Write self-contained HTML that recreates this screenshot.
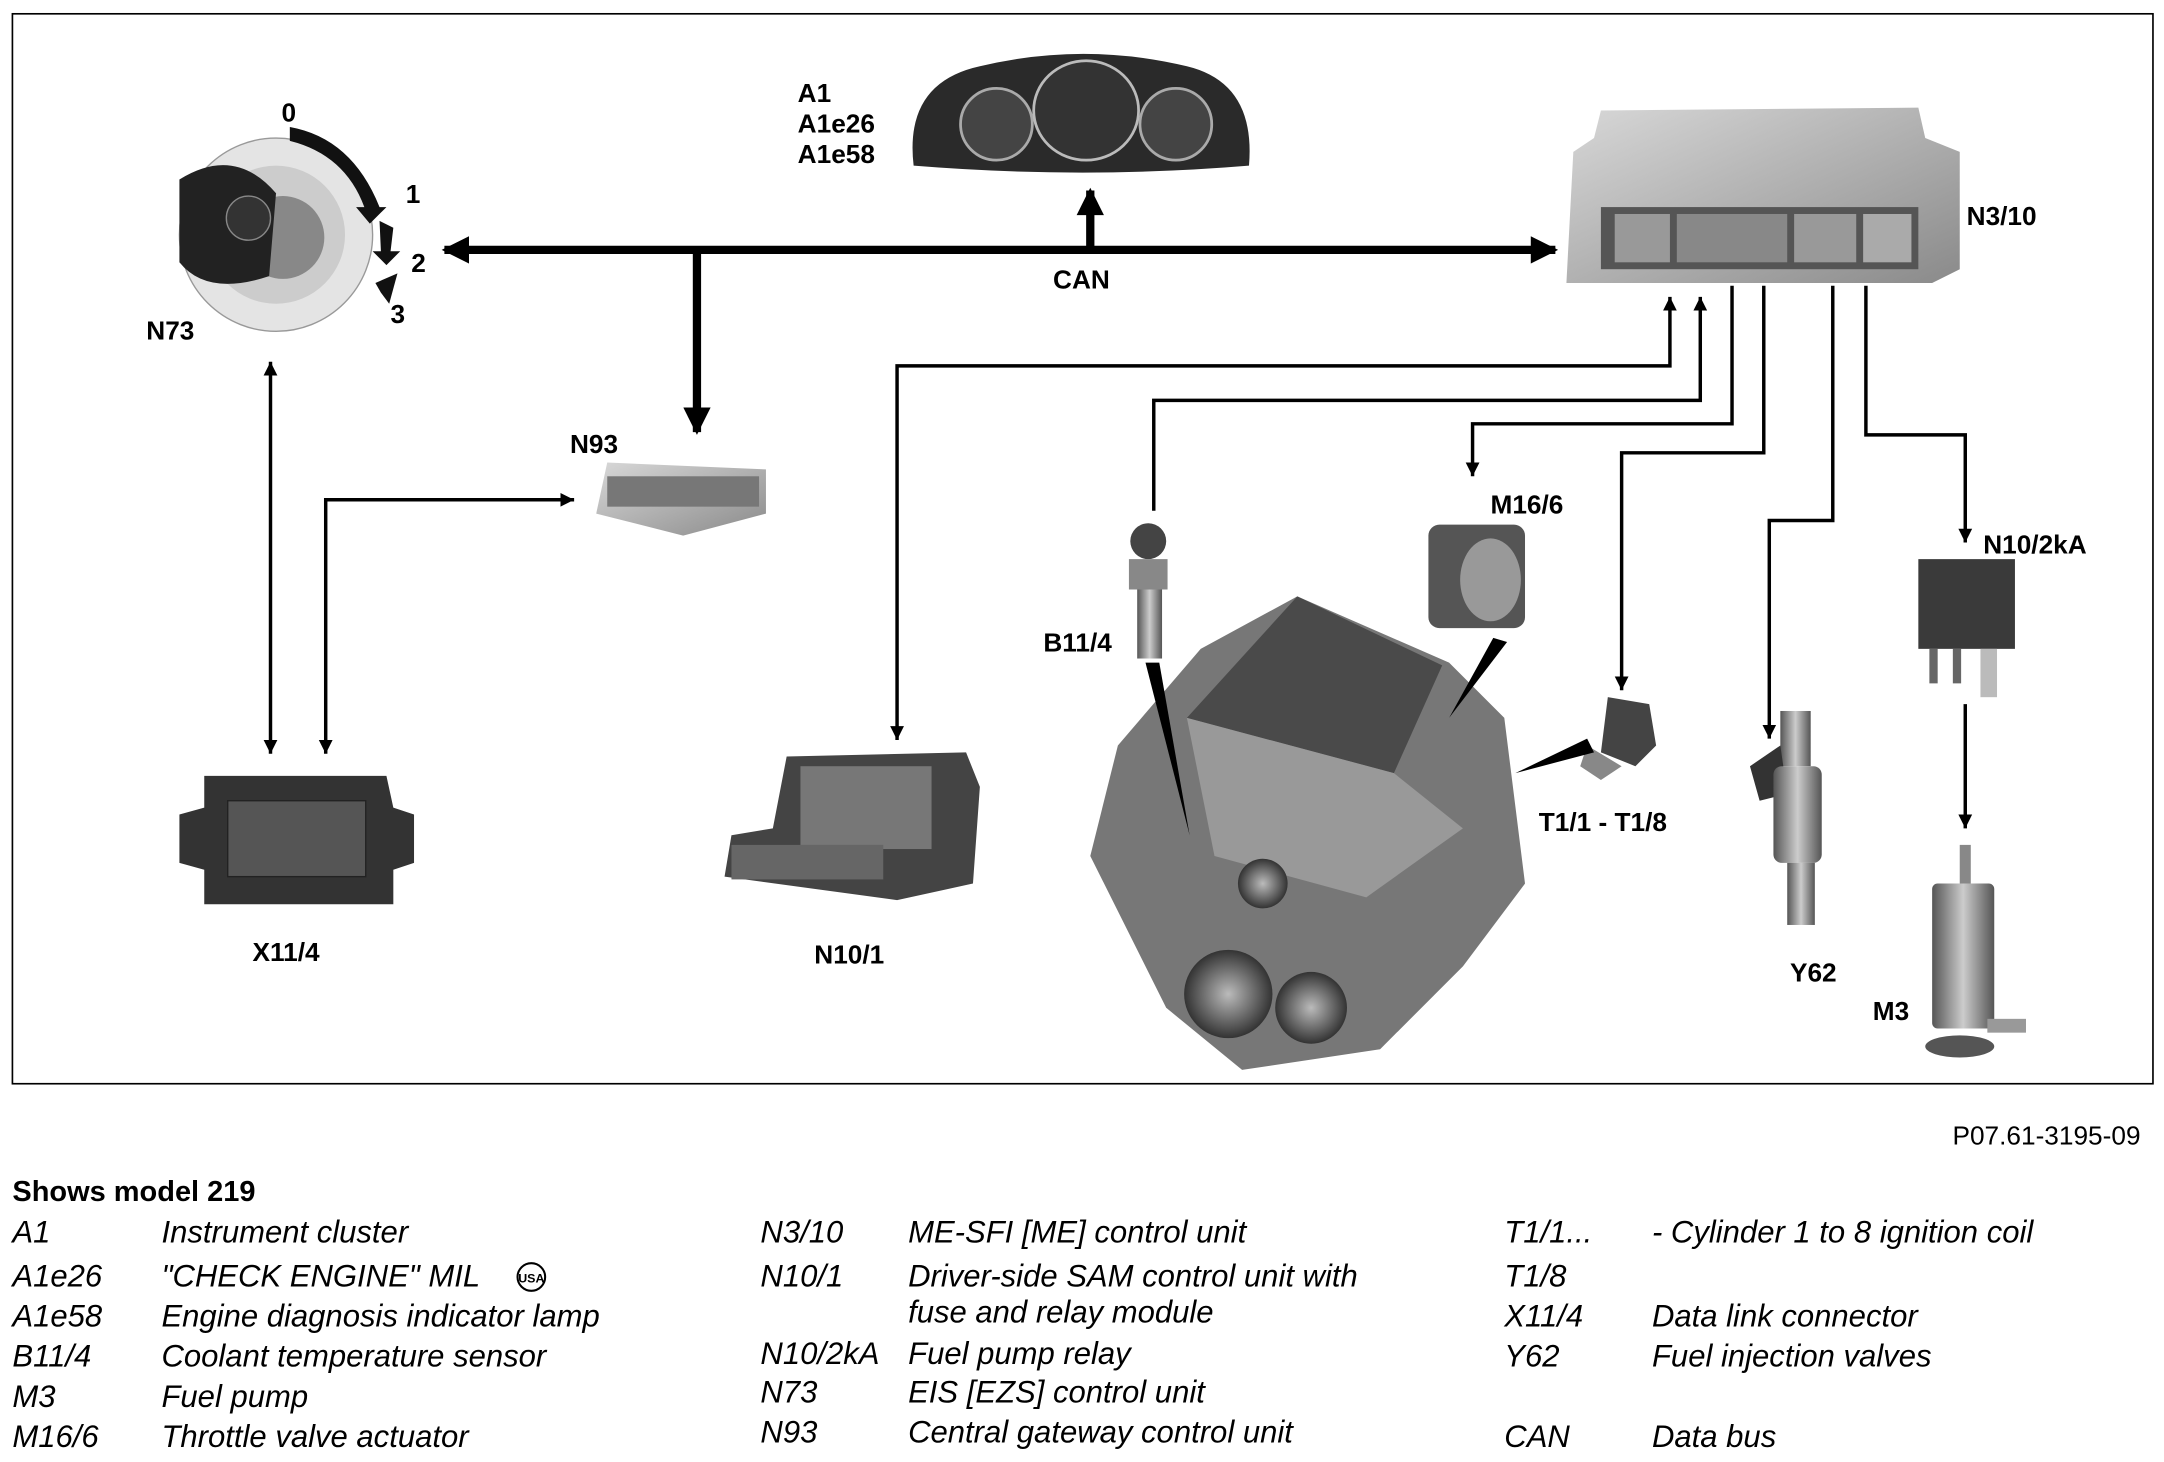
<!DOCTYPE html>
<html><head><meta charset="utf-8"><style>
html,body{margin:0;padding:0;background:#fff;}
svg{display:block;}
.lb{font-family:"Liberation Sans",Arial,sans-serif;font-weight:bold;font-size:19px;fill:#000;}
.lg{font-family:"Liberation Sans",Arial,sans-serif;font-style:italic;font-size:22.5px;fill:#000;}
</style></head><body>
<svg width="2164" height="1462" viewBox="0 0 1568 1059" preserveAspectRatio="none" xmlns="http://www.w3.org/2000/svg">
<defs>
<marker id="a" viewBox="0 0 10 10" refX="10" refY="5" markerWidth="10" markerHeight="12" markerUnits="userSpaceOnUse" orient="auto-start-reverse"><path d="M0,0 L10,5 L0,10 z" fill="#000"/></marker>
<marker id="A" viewBox="0 0 10 10" refX="9" refY="5" markerWidth="4" markerHeight="3.3" orient="auto-start-reverse"><path d="M0,0 L10,5 L0,10 z" fill="#000"/></marker>
<linearGradient id="g1" x1="0" y1="0" x2="1" y2="1"><stop offset="0" stop-color="#d8d8d8"/><stop offset="1" stop-color="#8a8a8a"/></linearGradient>
<linearGradient id="g2" x1="0" y1="0" x2="1" y2="0"><stop offset="0" stop-color="#555"/><stop offset=".5" stop-color="#ccc"/><stop offset="1" stop-color="#555"/></linearGradient>
<radialGradient id="g3"><stop offset="0" stop-color="#bbb"/><stop offset="1" stop-color="#333"/></radialGradient>
</defs>
<rect x="9" y="10" width="1551" height="775" fill="none" stroke="#000" stroke-width="1.2"/>

<!-- N73 -->
<circle cx="200" cy="170" r="70" fill="#e4e4e4" stroke="#999"/>
<circle cx="200" cy="170" r="50" fill="#ccc"/>
<circle cx="205" cy="172" r="30" fill="#888"/>
<path d="M130,130 Q170,105 200,140 L195,200 Q150,215 130,190 z" fill="#222"/>
<circle cx="180" cy="158" r="16" fill="#333" stroke="#888"/>
<path d="M210,92 Q255,100 275,150 L280,150 L268,162 L258,150 L264,150 Q250,112 210,102 z" fill="#111"/>
<path d="M275,160 L285,165 L283,182 L290,182 L280,192 L270,182 L276,182 z" fill="#111"/>
<path d="M272,205 L288,198 L282,220 L276,212 z" fill="#111"/>
<text class="lb" x="204" y="88">0</text>
<text class="lb" x="294" y="147">1</text>
<text class="lb" x="298" y="197">2</text>
<text class="lb" x="283" y="234">3</text>
<text class="lb" x="106" y="246">N73</text>

<!-- A1 cluster -->
<path d="M662,120 Q655,60 710,48 Q785,30 860,48 Q910,60 905,120 Q785,130 662,120 z" fill="#2a2a2a"/>
<circle cx="722" cy="90" r="26" fill="#444" stroke="#aaa" stroke-width="2"/>
<circle cx="852" cy="90" r="26" fill="#444" stroke="#aaa" stroke-width="2"/>
<ellipse cx="787" cy="80" rx="38" ry="36" fill="#333" stroke="#bbb" stroke-width="2"/>
<text class="lb" x="578" y="74">A1</text>
<text class="lb" x="578" y="96">A1e26</text>
<text class="lb" x="578" y="118">A1e58</text>

<!-- N3/10 -->
<path d="M1160,80 L1390,78 L1395,100 L1420,110 L1420,195 L1400,205 L1135,205 L1140,110 L1155,100 z" fill="url(#g1)"/>
<rect x="1160" y="150" width="230" height="45" fill="#555"/>
<rect x="1170" y="155" width="40" height="35" fill="#999"/>
<rect x="1215" y="155" width="80" height="35" fill="#888"/>
<rect x="1300" y="155" width="45" height="35" fill="#999"/>
<rect x="1350" y="155" width="35" height="35" fill="#aaa"/>
<text class="lb" x="1425" y="163">N3/10</text>

<!-- CAN bus -->
<line x1="322" y1="181" x2="1127" y2="181" stroke="#000" stroke-width="6" marker-start="url(#A)" marker-end="url(#A)"/>
<line x1="790" y1="181" x2="790" y2="138" stroke="#000" stroke-width="6" marker-end="url(#A)"/>
<line x1="505" y1="181" x2="505" y2="313" stroke="#000" stroke-width="6" marker-end="url(#A)"/>
<text class="lb" x="763" y="209">CAN</text>

<!-- N93 -->
<path d="M440,335 L555,340 L555,372 L495,388 L432,372 z" fill="url(#g1)"/>
<rect x="440" y="345" width="110" height="22" fill="#777"/>
<text class="lb" x="413" y="328">N93</text>

<!-- X11/4 -->
<path d="M148,562 L280,562 L285,585 L300,590 L300,625 L285,630 L285,655 L148,655 L148,630 L130,625 L130,590 L148,585 z" fill="#333"/>
<rect x="165" y="580" width="100" height="55" fill="#555" stroke="#222"/>
<text class="lb" x="183" y="696">X11/4</text>

<!-- N10/1 -->
<path d="M570,548 L700,545 L710,570 L705,640 L650,652 L525,635 L530,605 L560,600 z" fill="#444"/>
<rect x="580" y="555" width="95" height="60" fill="#777"/>
<rect x="530" y="612" width="110" height="25" fill="#666"/>
<text class="lb" x="590" y="698">N10/1</text>

<!-- Engine -->
<path d="M940,432 L1050,480 L1090,520 L1105,640 L1060,700 L1000,760 L900,775 L845,730 L790,620 L810,540 L870,470 z" fill="#777"/>
<path d="M940,432 L1045,482 L1010,560 L860,520 z" fill="#4a4a4a"/>
<path d="M860,520 L1010,560 L1060,600 L990,650 L880,620 z" fill="#999"/>
<circle cx="890" cy="720" r="32" fill="url(#g3)"/>
<circle cx="950" cy="730" r="26" fill="url(#g3)"/>
<circle cx="915" cy="640" r="18" fill="url(#g3)"/>
<!-- B11/4 -->
<circle cx="832" cy="392" r="13" fill="#444"/>
<rect x="818" y="405" width="28" height="22" fill="#888"/>
<rect x="824" y="427" width="18" height="50" fill="url(#g2)"/>
<text class="lb" x="756" y="472">B11/4</text>
<path d="M830,480 L840,480 L862,605 z" fill="#000"/>
<!-- M16/6 -->
<rect x="1035" y="380" width="70" height="75" rx="8" fill="#555"/>
<ellipse cx="1080" cy="420" rx="22" ry="30" fill="#999"/>
<text class="lb" x="1080" y="372">M16/6</text>
<path d="M1082,462 L1092,465 L1050,520 z" fill="#000"/>
<!-- T1 -->
<path d="M1165,505 L1195,510 L1200,540 L1185,555 L1160,545 z" fill="#444"/>
<path d="M1150,540 L1175,555 L1160,565 L1145,555 z" fill="#888"/>
<path d="M1150,535 L1155,545 L1098,560 z" fill="#000"/>
<text class="lb" x="1115" y="602">T1/1 - T1/8</text>
<!-- Y62 -->
<rect x="1290" y="515" width="22" height="40" fill="url(#g2)"/>
<path d="M1268,555 L1290,540 L1295,575 L1275,580 z" fill="#333"/>
<rect x="1285" y="555" width="35" height="70" rx="6" fill="url(#g2)"/>
<rect x="1295" y="625" width="20" height="45" fill="url(#g2)"/>
<text class="lb" x="1297" y="711">Y62</text>
<!-- N10/2kA -->
<rect x="1390" y="405" width="70" height="65" fill="#3a3a3a"/>
<rect x="1398" y="470" width="6" height="25" fill="#666"/>
<rect x="1415" y="470" width="6" height="25" fill="#666"/>
<rect x="1435" y="470" width="12" height="35" fill="#bbb"/>
<text class="lb" x="1437" y="401">N10/2kA</text>
<!-- M3 -->
<rect x="1420" y="612" width="8" height="30" fill="#888"/>
<rect x="1400" y="640" width="45" height="105" rx="4" fill="url(#g2)"/>
<rect x="1440" y="738" width="28" height="10" fill="#999"/>
<ellipse cx="1420" cy="758" rx="25" ry="8" fill="#555"/>
<text class="lb" x="1357" y="739">M3</text>

<!-- thin connectors -->
<g fill="none" stroke="#000" stroke-width="2.5">
<line x1="196" y1="262" x2="196" y2="546" marker-start="url(#a)" marker-end="url(#a)"/>
<polyline points="236,546 236,362 416,362" marker-start="url(#a)" marker-end="url(#a)"/>
<polyline points="650,536 650,265 1210,265 1210,215" marker-start="url(#a)" marker-end="url(#a)"/>
<polyline points="836,370 836,290 1232,290 1232,215" marker-end="url(#a)"/>
<polyline points="1255,207 1255,307 1067,307 1067,345" marker-end="url(#a)"/>
<polyline points="1278,207 1278,328 1175,328 1175,500" marker-end="url(#a)"/>
<polyline points="1328,207 1328,377 1282,377 1282,535" marker-end="url(#a)"/>
<polyline points="1352,207 1352,315 1424,315 1424,393" marker-end="url(#a)"/>
<line x1="1424" y1="510" x2="1424" y2="600" marker-end="url(#a)"/>
</g>

<!-- footer -->
<text class="lb" style="font-weight:normal;font-size:19px" x="1551" y="829" text-anchor="end">P07.61-3195-09</text>
<text class="lb" style="font-size:21px" x="9" y="870">Shows model 219</text>
<g>
<text class="lg" x="9" y="900">A1</text><text class="lg" x="117" y="900">Instrument cluster</text>
<text class="lg" x="9" y="932">A1e26</text><text class="lg" x="117" y="932">"CHECK ENGINE" MIL</text>
<circle cx="385" cy="925" r="10" fill="none" stroke="#000" stroke-width="1.5"/><text x="385" y="929" text-anchor="middle" style="font-family:'Liberation Sans',sans-serif;font-size:9px;font-weight:bold">USA</text>
<text class="lg" x="9" y="961">A1e58</text><text class="lg" x="117" y="961">Engine diagnosis indicator lamp</text>
<text class="lg" x="9" y="990">B11/4</text><text class="lg" x="117" y="990">Coolant temperature sensor</text>
<text class="lg" x="9" y="1019">M3</text><text class="lg" x="117" y="1019">Fuel pump</text>
<text class="lg" x="9" y="1048">M16/6</text><text class="lg" x="117" y="1048">Throttle valve actuator</text>

<text class="lg" x="551" y="900">N3/10</text><text class="lg" x="658" y="900">ME-SFI [ME] control unit</text>
<text class="lg" x="551" y="932">N10/1</text><text class="lg" x="658" y="932">Driver-side SAM control unit with</text>
<text class="lg" x="658" y="958">fuse and relay module</text>
<text class="lg" x="551" y="988">N10/2kA</text><text class="lg" x="658" y="988">Fuel pump relay</text>
<text class="lg" x="551" y="1016">N73</text><text class="lg" x="658" y="1016">EIS [EZS] control unit</text>
<text class="lg" x="551" y="1045">N93</text><text class="lg" x="658" y="1045">Central gateway control unit</text>

<text class="lg" x="1090" y="900">T1/1...</text><text class="lg" x="1197" y="900">- Cylinder 1 to 8 ignition coil</text>
<text class="lg" x="1090" y="932">T1/8</text>
<text class="lg" x="1090" y="961">X11/4</text><text class="lg" x="1197" y="961">Data link connector</text>
<text class="lg" x="1090" y="990">Y62</text><text class="lg" x="1197" y="990">Fuel injection valves</text>
<text class="lg" x="1090" y="1048">CAN</text><text class="lg" x="1197" y="1048">Data bus</text>
</g>
</svg>
</body></html>
